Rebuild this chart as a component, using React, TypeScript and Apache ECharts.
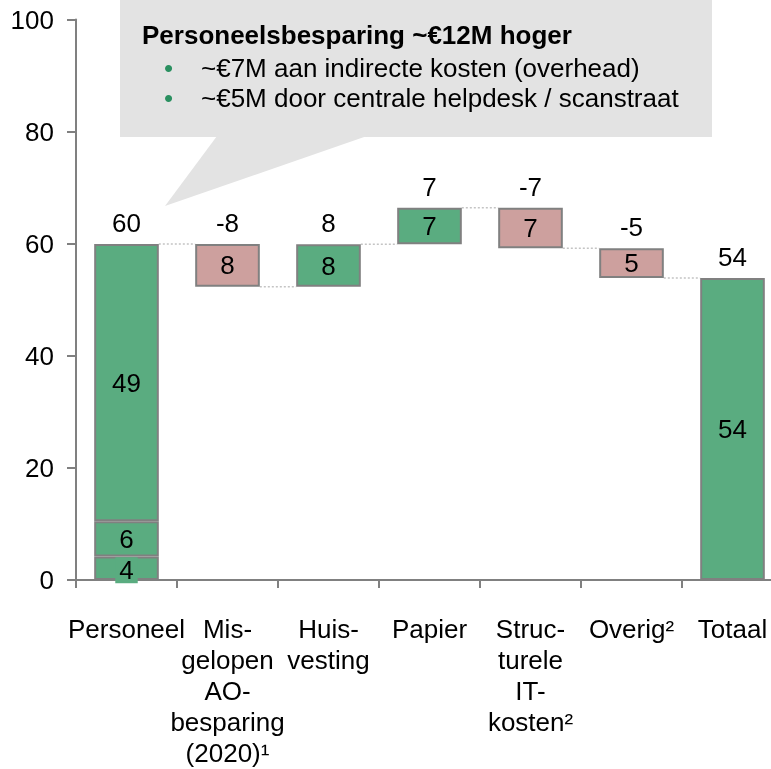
import React, { useEffect, useRef } from "react";
import * as echarts from "echarts";

const categories = [
  "Personeel",
  "Mis-\ngelopen\nAO-\nbesparing\n(2020)¹",
  "Huis-\nvesting",
  "Papier",
  "Struc-\nturele\nIT-\nkosten²",
  "Overig²",
  "Totaal",
];
// Personeel stacked segments (bottom to top)
const personeelSegments = [4.2, 6.3, 49.45];
// changes for middle categories (index 1..5)
const changes = [-7.65, 7.6, 6.5, -7.2, -5.3];
const yTicks = { min: 0, max: 100, interval: 20 };

const calloutTitle = "Personeelsbesparing ~€12M hoger";
const calloutBullets = [
  "~€7M aan indirecte kosten (overhead)",
  "~€5M door centrale helpdesk / scanstraat",
];

const GREEN = "#5aac80";
const RED = "#cda09e";
const BORDER = "#808080";
const FONT = "'Liberation Sans', Arial, sans-serif";
const FS = 26;

export default function App() {
  const ref = useRef<HTMLDivElement>(null);
  useEffect(() => {
    if (!ref.current) return;
    const chart = echarts.init(ref.current, undefined, { renderer: "svg" });

    const start = personeelSegments.reduce((a, b) => a + b, 0);
    const levels: number[] = [start];
    changes.forEach((c) => levels.push(levels[levels.length - 1] + c));
    const total = levels[levels.length - 1];

    const n = categories.length;
    const base: (number | string)[] = [0];
    const delta: any[] = ["-"];
    changes.forEach((c, k) => {
      const before = levels[k];
      const after = levels[k + 1];
      base.push(Math.min(before, after));
      delta.push({ value: Math.abs(c), itemStyle: { color: c >= 0 ? GREEN : RED } });
    });
    base.push(0);
    delta.push({ value: total, itemStyle: { color: GREEN } });

    const tops: number[][] = [[0, start]];
    changes.forEach((c, k) => tops.push([k + 1, Math.max(levels[k], levels[k + 1])]));
    tops.push([n - 1, total]);
    const topLabels = [
      String(Math.round(start)),
      ...changes.map((c) => String(Math.round(c))),
      String(Math.round(total)),
    ];

    const connectors: number[][] = levels.map((l, i) => [i, l]);

    const segSeries = personeelSegments.map((v, i) => ({
      type: "bar",
      stack: "w",
      barWidth: "64%",
      data: [v, "-", "-", "-", "-", "-", "-"],
      itemStyle: { color: GREEN, borderColor: BORDER, borderWidth: 2 },
      label: {
        show: true,
        position: "inside",
        fontSize: FS,
        fontFamily: FONT,
        color: "#000",
        formatter: (p: any) => String(Math.round(p.value)),
        ...(i === 0 ? { backgroundColor: GREEN, padding: [0, 4], offset: [0, 2] } : {}),
      },
      z: 3,
    }));

    chart.setOption({
      animation: false,
      textStyle: { fontFamily: FONT },
      grid: { left: 76, top: 19.5, width: 707, height: 560.5, containLabel: false },
      xAxis: {
        type: "category",
        data: categories,
        axisLine: { lineStyle: { color: BORDER, width: 2 } },
        axisTick: { show: true, length: 8, lineStyle: { color: BORDER, width: 2 }, alignWithLabel: false },
        axisLabel: {
          interval: 0,
          fontSize: FS,
          lineHeight: 31,
          color: "#000",
          fontFamily: FONT,
          margin: 33,
        },
      },
      yAxis: {
        type: "value",
        min: yTicks.min,
        max: yTicks.max,
        interval: yTicks.interval,
        axisLine: { show: true, lineStyle: { color: BORDER, width: 2 } },
        axisTick: { show: true, length: 9, lineStyle: { color: BORDER, width: 2 } },
        splitLine: { show: false },
        axisLabel: { fontSize: FS, color: "#000", fontFamily: FONT, margin: 22 },
      },
      graphic: [
        {
          type: "rect",
          shape: { x: 120, y: 0, width: 592, height: 137 },
          style: { fill: "#e3e3e3" },
          z: 0,
        },
        {
          type: "polygon",
          shape: { points: [[217, 136], [367, 136], [165, 206]] },
          style: { fill: "#e3e3e3" },
          z: 0,
        },
        {
          type: "text",
          x: 142,
          y: 35,
          style: {
            text: calloutTitle,
            font: `bold ${FS}px ${FONT}`,
            fill: "#000",
            verticalAlign: "middle",
          },
          z: 1,
        },
        ...calloutBullets.flatMap((t, i) => [
          {
            type: "text",
            x: 164,
            y: 68 + i * 30,
            style: { text: "•", font: `${FS}px ${FONT}`, fill: "#2a9060", verticalAlign: "middle" },
            z: 1,
          },
          {
            type: "text",
            x: 201,
            y: 68 + i * 30,
            style: { text: t, font: `${FS}px ${FONT}`, fill: "#000", verticalAlign: "middle" },
            z: 1,
          },
        ]),
      ],
      series: [
        {
          type: "custom",
          data: connectors.slice(0, n - 1),
          z: 1,
          silent: true,
          renderItem: (params: any, api: any) => {
            const i = api.value(0);
            const lvl = api.value(1);
            const p1 = api.coord([i, lvl]);
            const p2 = api.coord([i + 1, lvl]);
            const bw = api.size([1, 0])[0] * 0.64;
            return {
              type: "line",
              shape: { x1: p1[0] + bw / 2, y1: p1[1], x2: p2[0] - bw / 2, y2: p2[1] },
              style: { stroke: "#c4c4c4", lineWidth: 1.5, lineDash: [2, 2] },
            };
          },
        },
        {
          type: "bar",
          stack: "w",
          barWidth: "64%",
          data: base,
          itemStyle: { color: "transparent" },
          silent: true,
        },
        ...segSeries,
        {
          type: "bar",
          stack: "w",
          barWidth: "64%",
          data: delta,
          itemStyle: { borderColor: BORDER, borderWidth: 2 },
          label: {
            show: true,
            position: "inside",
            fontSize: FS,
            fontFamily: FONT,
            color: "#000",
            formatter: (p: any) => String(Math.round(p.value)),
          },
          z: 3,
        },
        {
          type: "custom",
          data: tops,
          z: 4,
          silent: true,
          renderItem: (params: any, api: any) => {
            const p = api.coord([api.value(0), api.value(1)]);
            return {
              type: "text",
              x: p[0],
              y: p[1] - 8,
              style: {
                text: topLabels[params.dataIndex],
                font: `${FS}px ${FONT}`,
                fill: "#000",
                align: "center",
                verticalAlign: "bottom",
              },
            };
          },
        },
      ],
    });
    return () => chart.dispose();
  }, []);
  return (
    <div style={{ position: "fixed", left: 0, top: 0, width: 771, height: 769, overflow: "hidden" }}>
      <div ref={ref} style={{ width: 800, height: 769 }} />
    </div>
  );
}
